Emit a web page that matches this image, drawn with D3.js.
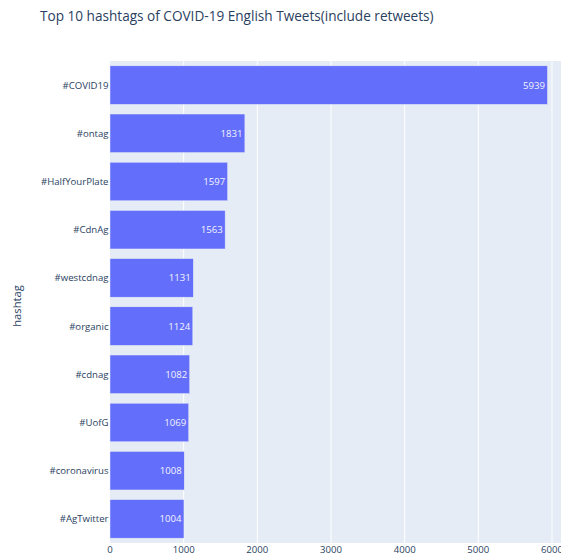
<!DOCTYPE html>
<html><head><meta charset="utf-8">
<script src="https://cdn.jsdelivr.net/npm/d3@7"></script>
<style>body{margin:0;background:#fff;} svg{display:block;font-family:"Open Sans",verdana,arial,sans-serif;}</style>
</head><body>
<script>
const hashtags = ["#COVID19","#ontag","#HalfYourPlate","#CdnAg","#westcdnag","#organic","#cdnag","#UofG","#coronavirus","#AgTwitter"];
const counts = [5939,1831,1597,1563,1131,1124,1082,1069,1008,1004];
const xTicks = [0,1000,2000,3000,4000,5000,6000];

const W = 561, H = 555;
const m = {left:110, top:61, bottom:543};
const svg = d3.select("body").append("svg").attr("width",W).attr("height",H);

const x = d3.scaleLinear().domain([0, 6236]).range([m.left, m.left + 442*6236/6000]);
const y = d3.scaleBand().domain(hashtags).range([m.top, m.bottom]).paddingInner(0.2).paddingOuter(0.1);

svg.append("rect").attr("x",m.left).attr("y",m.top).attr("width",x(6236)-m.left).attr("height",m.bottom-m.top).attr("fill","#e5ecf6");

svg.append("g").selectAll("line").data(xTicks.slice(1)).join("line")
  .attr("x1",d=>x(d)).attr("x2",d=>x(d)).attr("y1",m.top).attr("y2",m.bottom)
  .attr("stroke","#fff").attr("stroke-width",1);

const data = hashtags.map((h,i)=>({h, v:counts[i]}));
svg.append("g").selectAll("rect").data(data).join("rect")
  .attr("x",x(0)).attr("y",d=>y(d.h)).attr("width",d=>x(d.v)-x(0)).attr("height",y.bandwidth())
  .attr("fill","#636efa").attr("stroke","#e5ecf6").attr("stroke-width",0.5);

svg.append("g").selectAll("text").data(data).join("text")
  .attr("x",d=>x(d.v)-2.5).attr("y",d=>y(d.h)+y.bandwidth()/2).attr("dy","0.36em")
  .attr("text-anchor","end").attr("fill","#f4f4ff").attr("font-size",9.6).text(d=>d.v);

// y axis labels
svg.append("g").selectAll("text").data(hashtags).join("text")
  .attr("x",m.left-1.5).attr("y",d=>y(d)+y.bandwidth()/2).attr("dy","0.36em")
  .attr("text-anchor","end").attr("fill","#2a3f5f").attr("font-size",9.6).text(d=>d);

// x axis labels
svg.append("g").selectAll("text").data(xTicks).join("text")
  .attr("x",d=>x(d)).attr("y",552.5)
  .attr("text-anchor","middle").attr("fill","#2a3f5f").attr("font-size",9.6).text(d=>d);

svg.append("text").attr("transform",`translate(21,${(m.top+m.bottom)/2+4}) rotate(-90)`)
  .attr("text-anchor","middle").attr("fill","#2a3f5f").attr("font-size",11.2).text("hashtag");

svg.append("text").attr("x",40).attr("y",21).attr("fill","#2a3f5f").attr("font-size",13.6)
  .text("Top 10 hashtags of COVID-19 English Tweets(include retweets)");
</script>
</body></html>
